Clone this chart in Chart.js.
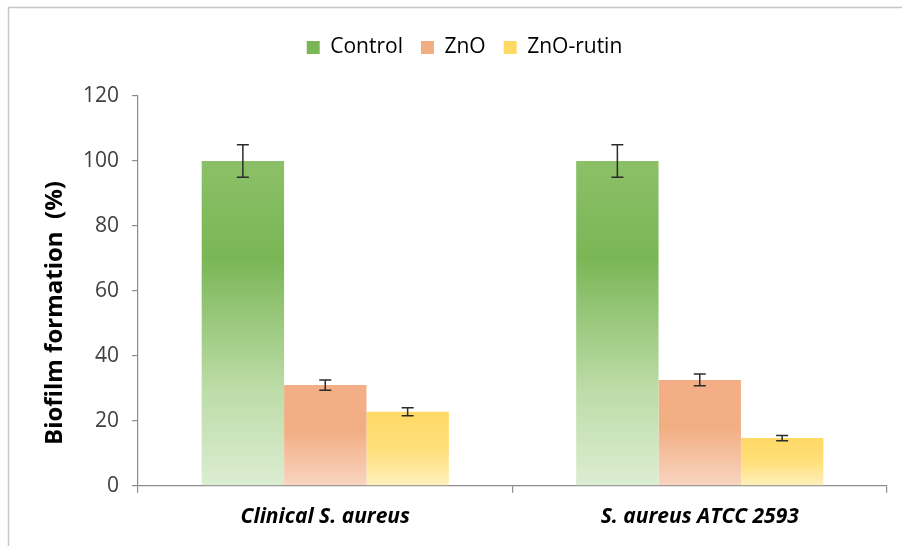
<!DOCTYPE html>
<html>
<head>
<meta charset="utf-8">
<script src="https://cdn.jsdelivr.net/npm/chart.js@4.4.1/dist/chart.umd.min.js"></script>
<style>
  html, body { margin: 0; padding: 0; background: #fff; }
  #wrap { width: 902px; height: 547px; position: relative; }
</style>
</head>
<body>
<div id="wrap"><canvas id="c" width="902" height="547"></canvas></div>
<script>
const categories = ["Clinical S. aureus", "S. aureus ATCC 2593"];
const seriesNames = ["Control", "ZnO", "ZnO-rutin"];
const controlValues = [100, 100];
const znoValues = [31.0, 32.6];
const znoRutinValues = [22.8, 14.7];
const controlErrors = [5.0, 5.0];
const znoErrors = [1.6, 1.8];
const znoRutinErrors = [1.2, 0.8];
const yTicks = [0, 20, 40, 60, 80, 100, 120];

const gradStops = [
  [[0, "#8cc068"], [0.3, "#7ab656"], [0.7, "#bcdca7"], [1, "#dcedd2"]],
  [[0, "#f3ae86"], [0.45, "#f2ae83"], [1, "#f9d5c1"]],
  [[0, "#ffd966"], [0.5, "#ffdf7a"], [1, "#fff1bd"]]
];
const legendColors = ["#7ab656", "#f2ae83", "#ffd966"];

function makeBg(idx) {
  return function(ctx) {
    const chart = ctx.chart;
    if (!chart.chartArea || ctx.type !== 'data') return legendColors[idx];
    const y = chart.scales.y;
    const top = y.getPixelForValue(ctx.raw);
    const bottom = y.getPixelForValue(0);
    const g = chart.ctx.createLinearGradient(0, top, 0, bottom);
    gradStops[idx].forEach(s => g.addColorStop(s[0], s[1]));
    return g;
  };
}

const errorSets = [controlErrors, znoErrors, znoRutinErrors];

const errorBarPlugin = {
  id: 'errorBars',
  afterDatasetsDraw(chart) {
    const ctx = chart.ctx;
    const y = chart.scales.y;
    ctx.save();
    ctx.strokeStyle = "#2b2b2b";
    ctx.lineWidth = 1.5;
    chart.data.datasets.forEach((ds, di) => {
      const meta = chart.getDatasetMeta(di);
      meta.data.forEach((bar, i) => {
        const v = ds.data[i];
        const e = errorSets[di][i];
        const x = bar.x;
        const yt = y.getPixelForValue(v + e);
        const yb = y.getPixelForValue(v - e);
        const cap = 6;
        ctx.beginPath();
        ctx.moveTo(x, yt); ctx.lineTo(x, yb);
        ctx.moveTo(x - cap, yt); ctx.lineTo(x + cap, yt);
        ctx.moveTo(x - cap, yb); ctx.lineTo(x + cap, yb);
        ctx.stroke();
      });
    });
    ctx.restore();
  }
};

const legendSpacePlugin = {
  id: 'legendSpace',
  beforeInit(chart) {
    const orig = chart.legend.fit;
    chart.legend.fit = function() {
      orig.call(this);
      this.height += 28;
    };
  },
  afterLayout(chart) {
    chart.legend.left -= 14;
    chart.legend.right -= 14;
  }
};

const framePlugin = {
  id: 'frame',
  afterDraw(chart) {
    const ctx = chart.ctx;
    ctx.save();
    ctx.strokeStyle = "#c6c6c6";
    ctx.lineWidth = 1.5;
    ctx.beginPath();
    ctx.moveTo(8.5, 546); ctx.lineTo(8.5, 7.5); ctx.lineTo(902, 7.5);
    ctx.stroke();
    // y axis title
    ctx.translate(55, 313);
    ctx.rotate(-Math.PI / 2);
    ctx.fillStyle = "#000";
    ctx.font = "bold 24px 'Open Sans'";
    ctx.textAlign = "center";
    ctx.textBaseline = "middle";
    ctx.fillText("Biofilm formation  (%)", 0, 0);
    ctx.restore();
  }
};

new Chart(document.getElementById('c'), {
  type: 'bar',
  data: {
    labels: categories,
    datasets: [
      { label: seriesNames[0], data: controlValues, backgroundColor: makeBg(0) },
      { label: seriesNames[1], data: znoValues, backgroundColor: makeBg(1) },
      { label: seriesNames[2], data: znoRutinValues, backgroundColor: makeBg(2) }
    ]
  },
  options: {
    responsive: false,
    animation: false,
    devicePixelRatio: 1,
    datasets: { bar: { categoryPercentage: 0.66, barPercentage: 1.0 } },
    layout: { padding: { left: 70, right: 15, top: 19, bottom: 5 } },
    plugins: {
      tooltip: { enabled: false },
      legend: {
        position: 'top',
        labels: {
          font: { family: "'Open Sans'", size: 21 },
          color: "#262626",
          boxWidth: 13,
          boxHeight: 13,
          padding: 18,
          generateLabels(chart) {
            return chart.data.datasets.map((ds, i) => ({
              text: ds.label,
              fillStyle: legendColors[i],
              strokeStyle: legendColors[i],
              lineWidth: 0,
              datasetIndex: i,
              hidden: false
            }));
          }
        }
      }
    },
    scales: {
      x: {
        offset: true,
        grid: { display: true, offset: true, drawOnChartArea: false, drawTicks: true, tickLength: 7, color: "#8c8c8c", lineWidth: 1.2 },
        border: { display: true, color: "#8c8c8c", width: 1.2 },
        ticks: {
          font: { family: "'Open Sans'", size: 21, style: 'italic', weight: 'bold' },
          color: "#000",
          padding: 12
        }
      },
      y: {
        min: 0, max: 120,
        afterBuildTicks(scale) { scale.ticks = yTicks.map(v => ({ value: v })); },
        grid: { display: true, drawOnChartArea: false, drawTicks: true, tickLength: 6, color: "#8c8c8c", lineWidth: 1.2 },
        border: { display: true, color: "#8c8c8c", width: 1.2 },
        ticks: {
          font: { family: "'Open Sans'", size: 21 },
          color: "#404040",
          padding: 13
        }
      }
    }
  },
  plugins: [legendSpacePlugin, errorBarPlugin, framePlugin]
});
</script>
</body>
</html>
